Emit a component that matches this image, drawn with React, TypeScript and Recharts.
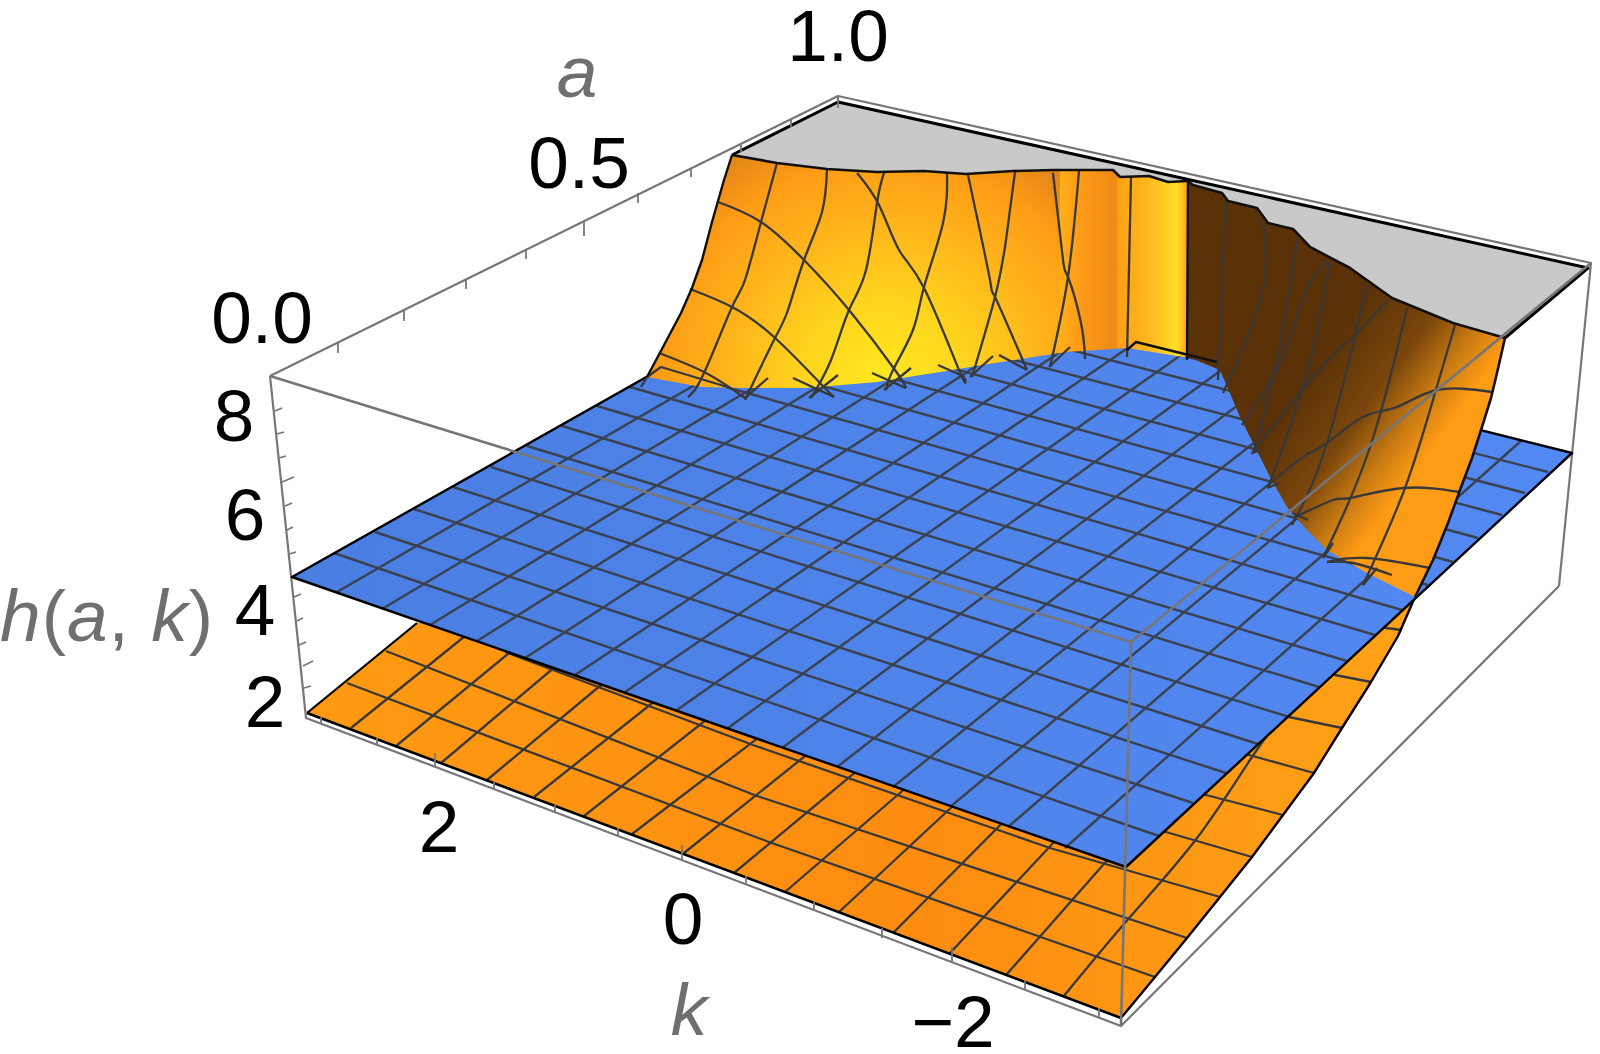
import React from "react";
import { ComposedChart, XAxis, YAxis, Area, Line, Scatter } from "recharts";

type P = [number, number];

// ---- Picture-plane readings (x along the frame, y down the frame) ----
const plateauUpper: P[] = [[732,155],[838,102],[1588,268]];
const wallTopLeft: P[] = [[732,155],[777,163],[827,169],[877,172],[924,171],[966,174],[1013,171],[1054,170],[1113,170],[1120,177],[1149,176],[1168,182],[1188,181]];
const wallTopRight: P[] = [[1188,181],[1193,185],[1222,193],[1228,201],[1257,208],[1268,223],[1293,229],[1310,247],[1350,268],[1392,298],[1453,323],[1505,338]];
const leftOuter: P[] = [[647,377],[663,347],[681,313],[692,288],[702,260],[712,222],[724,180],[732,155]];
const rightOuter: P[] = [[1415,597],[1433,560],[1448,523],[1460,490],[1472,458],[1482,427],[1491,398],[1497,373],[1505,338]];
const seamLeft: P[] = [[647,377],[702,387],[745,388],[806,388],[877,382],[934,373],[995,363],[1066,352],[1127,348],[1183,357],[1188,357]];
const seamRight: P[] = [[1188,357],[1220,370],[1240,417],[1253,443],[1270,477],[1287,507],[1307,530],[1327,550],[1367,573],[1415,597]];

const planeLeft: P = [292,577];
const planeBack: P = [838,269];
const planeRight: P = [1572,453];
const planeFront: P = [1126,867];
const planeWest: P[] = [[334,553],[375,532],[414,509],[453,487],[491,467],[527,446],[562,426],[597,406],[630,387],[662,369],[694,350],[725,333],[755,316],[784,300],[812,284]];
const planeEast: P[] = [[1159,836],[1193,803],[1226,773],[1258,744],[1289,717],[1319,687],[1347,661],[1375,635],[1402,610],[1428,585],[1453,562],[1478,538],[1502,515],[1525,493],[1548,472]];
const planeSouth: P[] = [[337,592],[382,609],[430,625],[477,641],[525,658],[575,675],[625,692],[677,710],[728,728],[782,748],[837,767],[893,787],[950,807],[1008,827],[1065,848]];
const planeNorth: P[] = [[878,279],[919,289],[960,299],[1003,310],[1046,321],[1090,332],[1135,343],[1181,355],[1227,366],[1274,378],[1322,390],[1371,402],[1421,415],[1471,427],[1522,440]];

const lowerLeftEdge: P[] = [[307,713],[417,623]];
const lowerFrontEdge: P[] = [[307,713],[1121,1018]];
const lowerRightEdge: P[] = [[1121,1018],[1155,977],[1187,938],[1220,897],[1252,857],[1283,815],[1314,773],[1342,728],[1371,682],[1398,636],[1415,597]];
const lowerAlong: P[][] = [
  [[347,683],[769,842],[1155,977]],
  [[386,651],[757,796],[1187,938]],
  [[505,652],[753,745],[1050,848],[1220,897]],
  [[1100,812],[1166,832],[1252,857]],
  [[1150,780],[1206,795],[1283,815]],
  [[1200,742],[1249,755],[1314,773]],
  [[1250,706],[1289,717],[1342,728]],
  [[1300,665],[1335,675],[1371,682]],
  [[1350,622],[1386,628],[1402,630]],
];
const lowerAcross: P[][] = [
  [[351,728],[475,628]],
  [[396,746],[525,640]],
  [[441,763],[575,650]],
  [[487,780],[625,665]],
  [[534,797],[675,685]],
  [[584,816],[725,705]],
  [[632,834],[775,725]],
  [[684,853],[825,740]],
  [[734,873],[870,760]],
  [[785,892],[915,780]],
  [[839,912],[970,790]],
  [[893,933],[1020,805]],
  [[950,953],[1070,825]],
  [[1006,975],[1125,840]],
  [[1063,997],[1130,917],[1197,838],[1252,757],[1290,705]],
];

const wallMesh: P[][] = [
  [[777,163],[761,222],[745,280],[732,307],[704,373],[688,397]],
  [[827,169],[822,212],[804,260],[788,310],[774,340],[745,400]],
  [[884,173],[877,203],[866,270],[849,310],[831,360],[811,398]],
  [[947,173],[943,223],[924,287],[913,330],[893,370],[886,390]],
  [[1015,172],[1006,240],[995,297],[972,377]],
  [[1079,171],[1068,277],[1050,367]],
  [[1131,177],[1127,357]],
  [[857,173],[879,205],[899,250],[924,288],[959,370],[965,378]],
  [[968,175],[990,280],[995,297],[1027,370]],
  [[1053,173],[1063,260],[1068,277],[1081,323],[1085,359]],
  [[718,202],[761,222],[804,260],[849,310],[895,370],[906,388]],
  [[690,289],[732,307],[774,337],[820,383],[834,397]],
  [[659,353],[706,373],[745,398]],
  [[1226,198],[1218,380]],
  [[1263,223],[1262,293],[1223,393]],
  [[1297,240],[1277,360],[1253,453]],
  [[1327,260],[1303,297],[1283,357],[1242,425]],
  [[1330,262],[1307,373],[1268,488]],
  [[1367,285],[1327,443],[1292,525]],
  [[1407,308],[1370,447],[1323,558]],
  [[1455,325],[1435,393],[1405,488],[1363,585]],
  [[1388,300],[1353,337],[1333,355],[1300,393],[1260,443],[1252,453]],
  [[1492,392],[1437,390],[1397,407],[1363,417],[1327,443],[1303,457],[1272,482]],
  [[1460,492],[1403,488],[1350,498],[1333,500],[1293,518]],
  [[1430,568],[1367,558],[1327,562]],
  [[1392,575],[1353,563],[1327,562]],
];
const wallStubs: P[][] = [
  [[647,377],[661,367],[731,388]],
  [[641,387],[647,377]],
  [[768,378],[745,398]],
  [[793,378],[834,397]],
  [[838,375],[809,398]],
  [[872,373],[906,388]],
  [[911,368],[884,390]],
  [[938,365],[965,377]],
  [[993,356],[970,377]],
  [[999,355],[1027,370]],
  [[1070,347],[1049,367]],
  [[1333,543],[1323,558]],
  [[1377,568],[1363,585]],
  [[1280,483],[1267,488]],
  [[1308,520],[1292,513]],
  [[1262,450],[1252,453]],
];
const wallDarkEdges: P[][] = [
  [[1188,181],[1187,360]],
  [[1127,350],[1136,342],[1217,362]],
];

const boxBack: P[][] = [
  [[270,376],[838,96],[1591,263],[1559,586]],
  [[270,376],[306,718],[1121,1026],[1559,586]],
  [[838,96],[838,102]],
];
const boxFront: P[][] = [
  [[270,376],[1131,642],[1121,1026]],
  [[1131,642],[1591,263]],
];
const axisTicks: P[][] = [
  [[321,717],[321,723]],[[377,738],[377,745]],[[435,753],[435,766]],[[494,782],[494,790]],[[555,805],[555,813]],[[618,828],[618,837]],[[682,845],[682,860]],[[746,876],[746,885]],[[814,902],[814,910]],[[882,928],[882,938]],[[952,947],[952,962]],[[1025,980],[1025,990]],[[1099,1008],[1099,1018]],
  [[338,342],[338,353]],[[404,310],[404,321]],[[466,279],[466,289]],[[526,250],[526,259]],[[584,221],[584,236]],[[638,193],[638,203]],[[691,168],[691,177]],[[741,145],[741,152]],[[791,120],[791,127]],[[838,96],[838,108]],
  [[275,411],[282,408]],[[277,434],[284,432]],[[279,458],[286,456]],[[282,482],[294,477]],[[285,506],[292,503]],[[287,530],[293,527]],[[289,554],[296,552]],[[294,597],[301,594]],[[297,621],[303,618]],[[299,645],[306,642]],[[303,666],[313,661]],[[304,688],[311,686]],
];

const tickLabels = [
  { x: 838, y: 61, text: "1.0" }, { x: 579, y: 188, text: "0.5" }, { x: 262, y: 343, text: "0.0" },
  { x: 234, y: 441, text: "8" }, { x: 245, y: 540, text: "6" }, { x: 255, y: 635, text: "4" }, { x: 265, y: 727, text: "2" },
  { x: 439, y: 852, text: "2" }, { x: 683, y: 944, text: "0" }, { x: 953, y: 1047, text: "\u22122" },
];
const axisTitles = [
  { x: 577, y: 97, text: "a" }, { x: 689, y: 1035, text: "k" }, { x: 107, y: 641, text: "h(a, k)" },
];

// ---- Table builders for the library ----
const chainY = (c: P[], x: number) => {
  for (let i = 0; i < c.length - 1; i++) {
    const [x0, y0] = c[i], [x1, y1] = c[i + 1];
    if (x >= x0 && x <= x1) return x1 === x0 ? y0 : y0 + ((y1 - y0) * (x - x0)) / (x1 - x0);
  }
  return x < c[0][0] ? c[0][1] : c[c.length - 1][1];
};
const band = (upper: P[], lower: P[]) =>
  Array.from(new Set([...upper, ...lower].map((p) => p[0])))
    .sort((a, b) => a - b)
    .map((x) => ({ x, r: [chainY(upper, x), chainY(lower, x)] }));
const rows = (pts: P[]) => pts.map(([x, y]) => ({ x, y }));
const sliceChain = (c: P[], from: number, to: number): P[] => [
  [from, chainY(c, from)],
  ...c.filter((p) => p[0] > from && p[0] < to),
  [to, chainY(c, to)],
];

const wallUpper: P[] = [...leftOuter, ...wallTopLeft.slice(1)];
const splitX = 1060;

let z = 10;
const nextZ = () => ++z;
const area = (key: string, data: any[], fill: string) => (
  <Area key={key} data={data} dataKey="r" type="linear" fill={fill} fillOpacity={1} stroke={fill.startsWith("url") ? "none" : fill} strokeWidth={0.5}
    dot={false} activeDot={false} isAnimationActive={false} legendType="none" zIndex={nextZ()} />
);
const line = (key: string, pts: P[], stroke: string, w: number, curve: "linear" | "natural" = "linear") => (
  <Line key={key} data={rows(pts)} dataKey="y" type={curve} stroke={stroke} strokeWidth={w} strokeLinejoin="round"
    dot={false} activeDot={false} isAnimationActive={false} legendType="none" zIndex={nextZ()} />
);
const MESH = "#383838";
const PLANE_MESH = "#3a414f";
const BOX = "#767676";

const TickText = (p: any) => (
  <text x={p.cx} y={p.cy} textAnchor="middle" fontFamily="Liberation Sans" fontSize={73} fill="#000">{p.payload.text}</text>
);
const TitleText = (p: any) => {
  const t: string = p.payload.text;
  const parts = t.split(/(\(|\)|, )/).filter(Boolean);
  return (
    <text x={p.cx} y={p.cy} textAnchor="middle" fontFamily="Liberation Sans" fontSize={73} fill="#6f6f6f" letterSpacing={t.length > 1 ? 1 : 0} xmlSpace="preserve">
      {parts.map((s: string, i: number) => (
        <tspan key={i} fontStyle={/[a-z]/.test(s) ? "italic" : "normal"}>{s}</tspan>
      ))}
    </text>
  );
};

export default function App() {
  z = 10;
  return (
    <div style={{ position: "absolute", left: 0, top: 0, width: 1600, height: 1054, background: "#fff" }}>
      <ComposedChart width={1600} height={1054} margin={{ top: 0, right: 0, bottom: 0, left: 0 }}>
        <defs>
          <radialGradient id="wallGlow" gradientUnits="userSpaceOnUse" cx={885} cy={385} r={285}>
            <stop offset="0" stopColor="#ffea20" />
            <stop offset="0.3" stopColor="#ffd31e" />
            <stop offset="0.6" stopColor="#ffb01a" />
            <stop offset="0.78" stopColor="#ff9d16" />
            <stop offset="1" stopColor="#dd7f1a" />
          </radialGradient>
          <linearGradient id="wallBand" gradientUnits="userSpaceOnUse" x1={1060} y1={0} x2={1188} y2={0}>
            <stop offset="0" stopColor="#ffb01b" />
            <stop offset="0.13" stopColor="#ff9c18" />
            <stop offset="0.44" stopColor="#ee8a16" />
            <stop offset="0.455" stopColor="#ffa116" />
            <stop offset="0.7" stopColor="#ffb81e" />
            <stop offset="0.91" stopColor="#ffdf28" />
            <stop offset="1" stopColor="#ff9c14" />
          </linearGradient>
          <linearGradient id="wallShade" gradientUnits="userSpaceOnUse" x1={1340} y1={335} x2={1455} y2={418}>
            <stop offset="0" stopColor="#5b3207" />
            <stop offset="0.45" stopColor="#7a460c" />
            <stop offset="0.75" stopColor="#c87a12" />
            <stop offset="1" stopColor="#ff9c15" />
          </linearGradient>
          <linearGradient id="lowerShade" gradientUnits="userSpaceOnUse" x1={307} y1={0} x2={1415} y2={0}>
            <stop offset="0" stopColor="#ff9a12" />
            <stop offset="0.55" stopColor="#fd8c10" />
            <stop offset="1" stopColor="#ffa317" />
          </linearGradient>
          <linearGradient id="planeShade" gradientUnits="userSpaceOnUse" x1={292} y1={0} x2={1572} y2={0}>
            <stop offset="0" stopColor="#4a7ee2" />
            <stop offset="1" stopColor="#5389f2" />
          </linearGradient>
        </defs>
        <XAxis type="number" dataKey="x" domain={[0, 1600]} allowDataOverflow hide />
        <YAxis type="number" dataKey="y" domain={[0, 1054]} reversed allowDataOverflow hide />

        {boxBack.map((b, i) => line(`box-${i}`, b, BOX, 2.2))}
        {area("plateau", band(plateauUpper, [...wallTopLeft, ...wallTopRight.slice(1), [1588, 268]]), "#c9c9c9")}

        {area("lower", band([...lowerLeftEdge, [1415, 597]], [...lowerFrontEdge, ...lowerRightEdge.slice(1)]), "url(#lowerShade)")}
        {lowerAlong.map((m, i) => line(`la-${i}`, m, MESH, 2.3))}
        {lowerAcross.map((m, i) => line(`lc-${i}`, m, MESH, 2.3, m.length > 2 ? "natural" : "linear"))}
        {line("lower-edge", [...lowerLeftEdge], "#000", 2.2)}
        {line("lower-front", lowerFrontEdge, "#000", 2.6)}
        {line("lower-right", lowerRightEdge, "#000", 2.4)}

        {area("plane", band([planeLeft, planeBack, planeRight], [planeLeft, planeFront, planeRight]), "url(#planeShade)")}
        {planeWest.map((w, i) => line(`pw-${i}`, [w, planeEast[i]], PLANE_MESH, 2.4))}
        {planeSouth.map((s, i) => line(`ps-${i}`, [s, planeNorth[i]], PLANE_MESH, 2.4))}
        {line("plane-edge", [planeBack, planeLeft, planeFront, planeRight, planeBack], "#000", 2.4)}

        {area("wall-a", band(sliceChain(wallUpper, 647, splitX), sliceChain(seamLeft, 647, splitX)), "url(#wallGlow)")}
        {area("wall-b", band(sliceChain(wallTopLeft, splitX, 1188), sliceChain(seamLeft, splitX, 1188)), "url(#wallBand)")}
        {area("wall-c", band(wallTopRight, [...seamRight, ...rightOuter.slice(1)]), "url(#wallShade)")}
        {wallMesh.map((m, i) => line(`wm-${i}`, m, MESH, 2.3, m.length > 2 ? "natural" : "linear"))}
        {wallStubs.map((m, i) => line(`ws-${i}`, m, MESH, 2.3))}
        {wallDarkEdges.map((m, i) => line(`wd-${i}`, m, "#111", 2.4))}
        {line("wall-left", leftOuter, "#111", 2.4)}
        {line("wall-top", wallTopLeft, "#111", 2.6)}
        {line("wall-top-r", wallTopRight, "#111", 2.6)}
        {line("wall-right", rightOuter, "#111", 2.6)}
        {line("plateau-edge", [[732, 155], [838, 102], [1588, 268], [1505, 338]], "#000", 3)}

        {boxFront.map((b, i) => line(`front-${i}`, b, BOX, 2.6))}
        {axisTicks.map((b, i) => line(`tick-${i}`, b, BOX, 1.8))}

        <Scatter data={tickLabels} dataKey="y" shape={TickText} isAnimationActive={false} legendType="none" zIndex={nextZ()} />
        <Scatter data={axisTitles} dataKey="y" shape={TitleText} isAnimationActive={false} legendType="none" zIndex={nextZ()} />
      </ComposedChart>
    </div>
  );
}
